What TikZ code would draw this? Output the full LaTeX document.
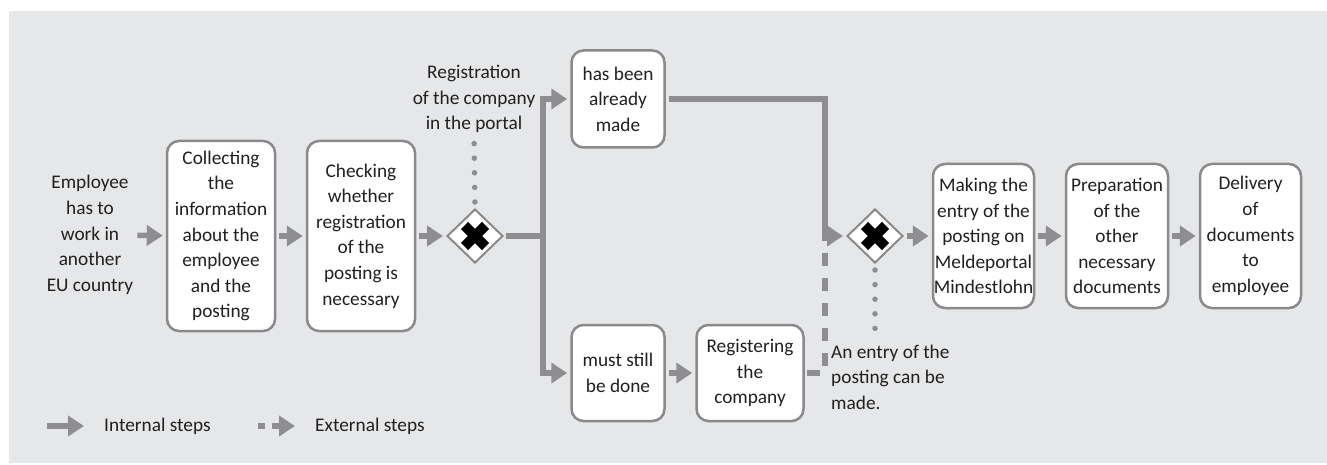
\documentclass[tikz,border=0pt]{standalone}
\usepackage{fontspec}
\setmainfont{Carlito}
\usetikzlibrary{arrows.meta,shapes.geometric}
\definecolor{bg}{HTML}{E6E7E8}
\definecolor{ar}{HTML}{8E8E90}
\definecolor{bd}{HTML}{8A8A8C}
\definecolor{tx}{HTML}{231F20}
\begin{document}
\begin{tikzpicture}[x=1pt,y=-1pt,
  every node/.style={text=tx,font=\fontsize{19.3}{25.6}\selectfont},
  box/.style={draw=bd,line width=2.5pt,fill=white,rounded corners=12pt,align=center,inner sep=0.5pt},
  lbl/.style={align=center,inner sep=1pt},
  gate/.style={diamond,draw=bd,line width=2pt,fill=white,minimum width=56pt,minimum height=54pt,inner sep=0pt},
  tip/.style={-{Triangle[length=16pt,width=20pt]}},
  arr/.style={draw=ar,line width=5.5pt,tip,shorten >=3pt,shorten <=3pt},
  conn/.style={draw=ar,line width=5.5pt,miter limit=10},
  ext/.style={draw=ar,line width=5.5pt,dash pattern=on 13pt off 12pt},
  dots/.style={draw=ar,line width=5.5pt,line cap=round,dash pattern=on 0pt off 14.6pt,shorten <=6pt,shorten >=4pt},
  xbar/.style={draw=black,line width=10pt}
]
\useasboundingbox (0,0) rectangle (1327,465);
\fill[bg] (9,11) rectangle (1327,463);

% nodes
\node[lbl] (emp) at (90,235) {Employee\\has to\\work in\\another\\EU country};
\node[box,minimum width=108pt,minimum height=190pt] (b1) at (221,236) {Collecting\\the\\information\\about the\\employee\\and the\\posting};
\node[box,minimum width=108pt,minimum height=190pt] (b2) at (361,236) {Checking\\whether\\registration\\of the\\posting is\\necessary};
\node[gate] (d1) at (475,236) {};
\node[lbl] (regtxt) at (474,99) {Registration\\of the company\\in the portal};
\node[box,minimum width=93pt,minimum height=97pt] (top) at (618,99) {has been\\already\\made};
\node[box,minimum width=93pt,minimum height=96pt] (bot) at (618,373) {must still\\be done};
\node[box,minimum width=107pt,minimum height=96pt] (reg) at (750,373) {Registering\\the\\company};
\node[gate] (d2) at (875,236) {};
\node[lbl,align=left,anchor=west] (entry) at (830,377) {An entry of the\\posting can be\\made.};
\node[box,minimum width=101pt,minimum height=144pt] (mk) at (983.5,236) {Making the\\entry of the\\posting on\\Meldeportal\\Mindestlohn};
\node[box,minimum width=102pt,minimum height=144pt] (pr) at (1117,236) {Preparation\\of the\\other\\necessary\\documents};
\node[box,minimum width=101pt,minimum height=144pt] (dl) at (1250.5,236) {Delivery\\of\\documents\\to\\employee};

% X marks
\foreach \g in {d1,d2}{
  \draw[xbar] ([shift={(-10.5,-10.5)}]\g.center) -- ([shift={(10.5,10.5)}]\g.center);
  \draw[xbar] ([shift={(-10.5,10.5)}]\g.center) -- ([shift={(10.5,-10.5)}]\g.center);
}

\coordinate (j1) at (543,236);
\coordinate (j2) at (825,236);
\coordinate (d2end) at (875,333);

% connectors
\draw[arr] (emp) -- (b1);
\draw[arr] (b1) -- (b2);
\draw[arr] (b2) -- (d1);
\draw[conn] (d1.east) ++(2,0) -- (j1);
\draw[arr,shorten <=0pt] (j1) |- (top);
\draw[arr,shorten <=0pt] (j1) |- (bot);
\draw[arr] (bot) -- (reg);
\draw[ext,shorten <=2pt] (reg.east) -| (j2);
\draw[conn] (top.east) ++(3,0) -| ([yshift=3pt]j2);
\draw[arr,shorten <=-2.75pt] (j2) -- (d2);
\draw[arr] (d2) -- (mk);
\draw[arr] (mk) -- (pr);
\draw[arr] (pr) -- (dl);
\draw[dots] (d1.north) -- (regtxt.south);
\draw[dots] (d2.south) -- (d2end);

% legend
\coordinate (li1) at (47,426);
\coordinate (li2) at (84,426);
\coordinate (le1) at (258,426);
\coordinate (le2) at (295,426);
\draw[draw=ar,line width=5.5pt,tip] (li1) -- (li2);
\node[anchor=west,inner sep=0pt] (lint) at (104,426) {Internal steps};
\draw[draw=ar,line width=5.5pt,tip,dash pattern=on 7pt off 7pt] (le1) -- (le2);
\node[anchor=west,inner sep=0pt] (lext) at (315,426) {External steps};
\end{tikzpicture}
\end{document}
